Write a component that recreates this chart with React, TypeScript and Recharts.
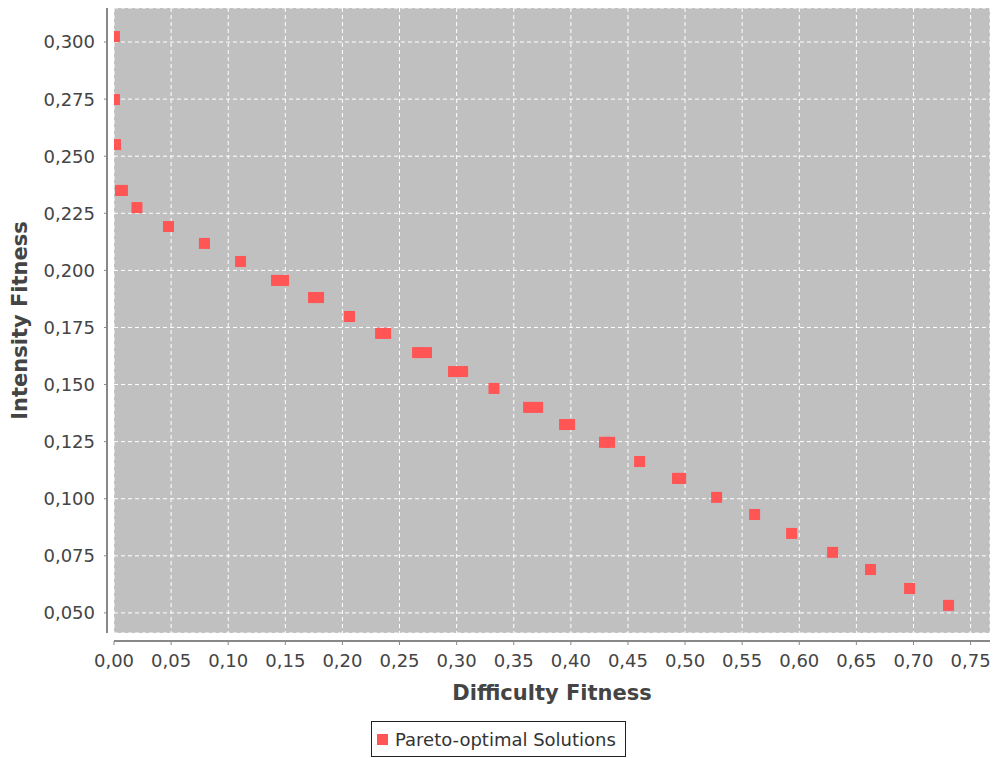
import React from 'react';
import {
  ScatterChart,
  Scatter,
  XAxis,
  YAxis,
  CartesianGrid,
  ReferenceArea,
  Legend,
} from 'recharts';

const difficulty = [
  0.0004, 0.0004, 0.0013, 0.0057, 0.0074, 0.0201, 0.0477, 0.0792, 0.1108,
  0.1423, 0.1484, 0.1747, 0.1791, 0.2062, 0.2334, 0.2378, 0.2658, 0.2736,
  0.2973, 0.3052, 0.3327, 0.363, 0.3709, 0.3945, 0.3989, 0.4295, 0.4339,
  0.4602, 0.4934, 0.4961, 0.5276, 0.5609, 0.5933, 0.6292, 0.6624, 0.6966,
  0.7307,
];
const intensity = [
  0.3024, 0.2748, 0.2551, 0.235, 0.235, 0.2275, 0.2192, 0.2118, 0.2039,
  0.1956, 0.1956, 0.1881, 0.1881, 0.1798, 0.1724, 0.1724, 0.164, 0.164,
  0.1557, 0.1557, 0.1483, 0.14, 0.14, 0.1325, 0.1325, 0.1247, 0.1247,
  0.1163, 0.1089, 0.1089, 0.1006, 0.0931, 0.0848, 0.0765, 0.069, 0.0607,
  0.0533,
];
const xTicks = [0, 0.05, 0.1, 0.15, 0.2, 0.25, 0.3, 0.35, 0.4, 0.45, 0.5, 0.55, 0.6, 0.65, 0.7, 0.75];
const yTicks = [0.05, 0.075, 0.1, 0.125, 0.15, 0.175, 0.2, 0.225, 0.25, 0.275, 0.3];
const xDomain = [0, 0.767];
const yDomain = [0.0412, 0.3149];
const seriesName = 'Pareto-optimal Solutions';

const data = difficulty.map((d, i) => ({ x: d, y: intensity[i] }));

const FONT = '"DejaVu Sans", Verdana, sans-serif';
const RED = '#ff5555';

const SquareShape = (props: any) => {
  const { cx, cy } = props;
  if (cx == null || cy == null) return null;
  return <rect x={cx - 5.5} y={cy - 5.5} width={11} height={11} fill={RED} />;
};

const LegendBox = () => (
  <div
    style={{
      border: '1px solid #222',
      height: 34,
      width: 253,
      display: 'flex',
      alignItems: 'center',
      boxSizing: 'content-box',
      fontFamily: FONT,
      fontSize: 18,
      color: '#333',
      background: '#fff',
    }}
  >
    <span style={{ display: 'inline-block', width: 11, height: 11, background: RED, marginLeft: 5, marginRight: 7 }} />
    <span>{seriesName}</span>
  </div>
);

export default function App() {
  return (
    <div
      style={{
        position: 'fixed',
        left: 0,
        top: 0,
        width: 993,
        height: 758,
        overflow: 'hidden',
        background: '#fff',
      }}
    >
      <ScatterChart
        width={993}
        height={758}
        margin={{ top: 8, right: 3, bottom: 65, left: 14 }}
        style={{ fontFamily: FONT }}
      >
        <CartesianGrid
          stroke="#ffffff"
          strokeDasharray="4 3"
          fill="#c0c0c0"
          fillOpacity={1}
        />
        <XAxis
          type="number"
          dataKey="x"
          domain={xDomain}
          ticks={xTicks}
          allowDataOverflow
          height={60}
          tickSize={4}
          tickMargin={17}
          axisLine={{ stroke: '#888', strokeWidth: 2, transform: 'translate(0,8)' }}
          tickLine={{ stroke: '#888', strokeWidth: 1, transform: 'translate(0,8)' }}
          tick={{ fill: '#444', fontSize: 18, fontFamily: FONT }}
          tickFormatter={(v: number) => v.toFixed(2).replace('.', ',')}
          label={{
            value: 'Difficulty Fitness',
            position: 'center',
            dy: 30,
            style: { fill: '#444', fontSize: 21, fontWeight: 'bold', fontFamily: FONT },
          }}
        />
        <YAxis
          type="number"
          dataKey="y"
          domain={yDomain}
          ticks={yTicks}
          allowDataOverflow
          width={100}
          tickSize={3}
          tickMargin={16}
          axisLine={{ stroke: '#888', strokeWidth: 2, transform: 'translate(-7,0)' }}
          tickLine={{ stroke: '#888', strokeWidth: 1, transform: 'translate(-7,0)' }}
          tick={{ fill: '#444', fontSize: 18, fontFamily: FONT }}
          tickFormatter={(v: number) => v.toFixed(3).replace('.', ',')}
          label={{
            value: 'Intensity Fitness',
            angle: -90,
            position: 'center',
            dx: -44,
            style: { fill: '#444', fontSize: 21, fontWeight: 'bold', fontFamily: FONT, textAnchor: 'middle' },
          }}
        />
        <ReferenceArea fill="none" stroke="#444" strokeWidth={1.5} ifOverflow="visible" />
        <Scatter
          name={seriesName}
          data={data}
          shape={SquareShape}
          isAnimationActive={false}
        />
        <Legend
          layout="horizontal"
          verticalAlign="middle"
          content={() => <LegendBox />}
          wrapperStyle={{ position: 'absolute', left: 371, top: 721, width: 255, height: 36 }}
        />
      </ScatterChart>
    </div>
  );
}
